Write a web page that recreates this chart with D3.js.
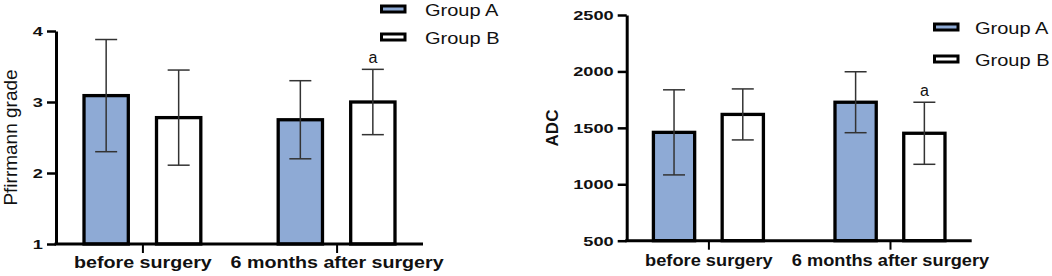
<!DOCTYPE html>
<html>
<head>
<meta charset="utf-8">
<script src="https://cdn.jsdelivr.net/npm/d3@7"></script>
<style>
  body { margin: 0; background: #fff; }
  text { font-family: "Liberation Sans", Arial, sans-serif; fill: #111; }
</style>
</head>
<body>
<div id="chart"></div>
<script>
// data
var categories = ["before surgery", "6 months after surgery"];
var groups = ["Group A", "Group B"];

var pfA = [3.09, 2.75], pfAErr = [0.79, 0.55];
var pfB = [2.78, 3.00], pfBErr = [0.67, 0.46];
var pfTicks = [1, 2, 3, 4];

var adcA = [1460, 1727], adcAErr = [377, 270];
var adcB = [1619, 1452], adcBErr = [226, 275];
var adcTicks = [500, 1000, 1500, 2000, 2500];

// significance marks: [group, category index, label]
var marks = [["Group B", 1, "a"]];

var colors = { "Group A": "#8eaad5", "Group B": "#ffffff" };

var svg = d3.select("#chart").append("svg")
  .attr("width", 1052)
  .attr("height", 276);

function rows(a, aErr, b, bErr) {
  var out = [];
  categories.forEach(function(c, i) {
    out.push({ cat: c, group: "Group A", v: a[i], e: aErr[i], i: i });
    out.push({ cat: c, group: "Group B", v: b[i], e: bErr[i], i: i });
  });
  return out;
}

function panel(p) {
  var g = svg.append("g");
  var y = d3.scaleLinear().domain(p.domain).range([p.y1, p.y0]);
  var x = d3.scalePoint().domain(categories).range([p.x0, p.x1]).padding(p.pad);
  var xs = d3.scaleBand().domain(groups).range([-p.sub / 2, p.sub / 2]).paddingInner(p.inner);

  var data = rows(p.a, p.aErr, p.b, p.bErr);

  // bars
  g.selectAll(".bar").data(data).enter().append("rect")
    .attr("x", function(d) { return x(d.cat) + xs(d.group); })
    .attr("y", function(d) { return y(d.v); })
    .attr("width", xs.bandwidth())
    .attr("height", function(d) { return y(p.domain[0]) - y(d.v); })
    .attr("fill", function(d) { return colors[d.group]; })
    .attr("stroke", "#000")
    .attr("stroke-width", 3.3);

  // error bars
  var cx = function(d) { return x(d.cat) + xs(d.group) + xs.bandwidth() / 2; };
  var eb = g.selectAll(".err").data(data).enter().append("g")
    .attr("stroke", "#333").attr("stroke-width", 1.5);
  eb.append("line")
    .attr("x1", cx).attr("x2", cx)
    .attr("y1", function(d) { return y(d.v + d.e); })
    .attr("y2", function(d) { return y(d.v - d.e); });
  eb.append("line")
    .attr("x1", function(d) { return cx(d) - 11; }).attr("x2", function(d) { return cx(d) + 11; })
    .attr("y1", function(d) { return y(d.v + d.e); }).attr("y2", function(d) { return y(d.v + d.e); });
  eb.append("line")
    .attr("x1", function(d) { return cx(d) - 11; }).attr("x2", function(d) { return cx(d) + 11; })
    .attr("y1", function(d) { return y(d.v - d.e); }).attr("y2", function(d) { return y(d.v - d.e); });

  // significance letters
  marks.forEach(function(m) {
    var d = data.filter(function(r) { return r.group === m[0] && r.i === m[1]; })[0];
    g.append("text")
      .attr("x", cx(d))
      .attr("y", y(d.v + d.e) - 6)
      .attr("text-anchor", "middle")
      .style("font-size", "16px")
      .text(m[2]);
  });

  // y axis
  var ya = g.append("g")
    .attr("transform", "translate(" + p.x0 + ",0)")
    .call(d3.axisLeft(y).tickValues(p.ticks).tickFormat(d3.format("d"))
      .tickSize(9).tickPadding(4).tickSizeOuter(0));
  ya.select(".domain").attr("stroke", "#000").attr("stroke-width", 3);
  ya.selectAll(".tick line").attr("stroke", "#000").attr("stroke-width", 2.5);
  ya.selectAll(".tick text")
    .attr("x", null)
    .attr("transform", "translate(-13,0) scale(1.35,1)")
    .style("font-size", "13.5px")
    .style("font-weight", "bold")
    .style("font-family", "'Liberation Sans', Arial, sans-serif")
    .attr("fill", "#111");

  // x axis
  var xa = g.append("g")
    .attr("transform", "translate(0," + p.y1 + ")")
    .call(d3.axisBottom(x).tickSize(9).tickPadding(0).tickSizeOuter(0));
  xa.select(".domain").attr("stroke", "#000").attr("stroke-width", 3)
    .attr("d", "M" + (p.x0 - 1.5) + ",0H" + p.x1);
  xa.selectAll(".tick line").attr("stroke", "#000").attr("stroke-width", 2);
  xa.selectAll(".tick text")
    .attr("y", null).attr("dy", null)
    .attr("transform", "translate(0," + p.cy + ") scale(" + p.cs + ",1)")
    .style("font-size", "16px")
    .style("font-weight", "bold")
    .style("font-family", "'Liberation Sans', Arial, sans-serif")
    .attr("fill", "#111");

  // y title
  g.append("text")
    .attr("transform", "translate(" + p.tx + "," + p.ty + ") rotate(-90)")
    .attr("text-anchor", "middle")
    .attr("dy", "0.35em")
    .style("font-size", p.tSize + "px")
    .style("font-weight", p.tWeight)
    .text(p.title);

  // legend
  var lg = g.selectAll(".leg").data(groups).enter().append("g")
    .attr("transform", function(d, i) { return "translate(" + p.lx + "," + (p.ly + i * p.ldy) + ")"; });
  lg.append("rect")
    .attr("x", 1.5).attr("y", -4)
    .attr("width", 23.5).attr("height", 6)
    .attr("fill", function(d) { return colors[d]; })
    .attr("stroke", "#000").attr("stroke-width", 3);
  lg.append("text")
    .attr("transform", "translate(" + p.lt + ",6) scale(1.25,1)")
    .style("font-size", "16px")
    .text(function(d) { return d; });
}

panel({
  a: pfA, aErr: pfAErr, b: pfB, bErr: pfBErr, ticks: pfTicks,
  domain: [1, 4], x0: 56, x1: 423, y0: 31, y1: 244, pad: 0.445,
  sub: 116.8, inner: 0.389, cy: 24, cs: 1.23,
  title: "Pfirrmann grade", tx: 10, ty: 137.5, tSize: 19, tWeight: "normal",
  lx: 380, ly: 10, ldy: 28, lt: 45
});

panel({
  a: adcA, aErr: adcAErr, b: adcB, bErr: adcBErr, ticks: adcTicks,
  domain: [500, 2500], x0: 626.7, x1: 971.7, y0: 15, y1: 240.7, pad: 0.45,
  sub: 110, inner: 0.40, cy: 25, cs: 1.14,
  title: "ADC", tx: 552, ty: 128, tSize: 17, tWeight: "bold",
  lx: 933, ly: 28, ldy: 32, lt: 42
});
</script>
</body>
</html>
